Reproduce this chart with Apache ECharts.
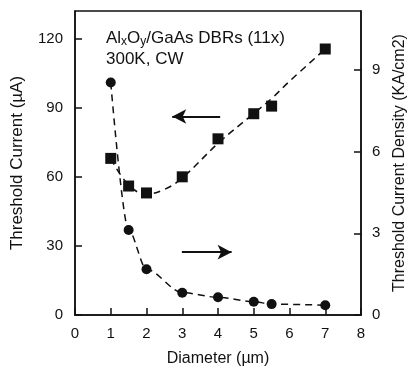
<!DOCTYPE html>
<html>
<head>
<meta charset="utf-8">
<script src="https://cdn.jsdelivr.net/npm/echarts@6/dist/echarts.min.js"></script>
<style>
  html, body { margin: 0; padding: 0; background: #fff; }
  #chart { width: 407px; height: 367px; }
</style>
</head>
<body>
<div id="chart"></div>
<script>
// diameters (µm)
const diameters = [1, 1.5, 2, 3, 4, 5, 5.5, 7];
// threshold current (µA), left axis, squares
const thresholdCurrent = [68, 56, 53, 60, 76.5, 87.4, 90.7, 115.5];
// threshold current density (KA/cm2), right axis, circles
const currentDensity = [8.54, 3.12, 1.68, 0.82, 0.65, 0.49, 0.4, 0.36];
// dashed fit through the current points
const fitDiameters = [1, 1.5, 2, 2.5, 3, 4, 5, 5.5, 6, 7];
const fitCurrent = [68, 56.5, 52.5, 54.5, 59.5, 74.5, 87.5, 94, 101.5, 115.5];

const xTicks = [0, 1, 2, 3, 4, 5, 6, 7, 8];
const leftTicks = [0, 30, 60, 90, 120];
const rightTicks = [0, 3, 6, 9];

const FONT = "Liberation Sans";
const INK = "#111";

const chart = echarts.init(document.getElementById("chart"), null, { renderer: "canvas" });

const axisCommon = {
  axisLine: { show: true, lineStyle: { color: INK, width: 1.5 } },
  axisTick: { show: true, inside: true, length: 7, lineStyle: { color: INK, width: 1.5 } },
  splitLine: { show: false },
  axisLabel: { color: INK, fontFamily: FONT, fontSize: 15 },
  nameTextStyle: { color: INK, fontFamily: FONT, fontSize: 16 },
};

chart.setOption({
  backgroundColor: "#fff",
  animation: false,
  grid: {
    left: 75, right: 46, top: 11, bottom: 52,
    containLabel: false,
    outerBoundsMode: "none",
    show: true, borderColor: INK, borderWidth: 1.5,
  },
  xAxis: {
    ...axisCommon,
    type: "value",
    min: 0, max: 8, interval: 1,
    name: "Diameter (µm)",
    nameLocation: "middle",
    nameGap: 36,
    axisLabel: { ...axisCommon.axisLabel, margin: 11, customValues: xTicks },
    axisTick: { ...axisCommon.axisTick, customValues: xTicks },
  },
  yAxis: [
    {
      ...axisCommon,
      type: "value",
      position: "left",
      min: 0, max: 132,
      name: "Threshold Current (µA)",
      nameLocation: "middle",
      nameGap: 49,
      nameTextStyle: { ...axisCommon.nameTextStyle, fontSize: 17 },
      axisLabel: { ...axisCommon.axisLabel, margin: 12, customValues: leftTicks },
      axisTick: { ...axisCommon.axisTick, customValues: leftTicks },
    },
    {
      ...axisCommon,
      type: "value",
      position: "right",
      min: 0, max: 11.17,
      name: "Threshold Current Density (KA/cm2)",
      nameLocation: "middle",
      nameGap: 29,
      nameRotate: 90,
      axisLabel: { ...axisCommon.axisLabel, margin: 11, customValues: rightTicks },
      axisTick: { ...axisCommon.axisTick, customValues: rightTicks },
    },
  ],
  graphic: [
    {
      type: "text",
      left: 106, top: 28,
      style: {
        text: "{n|Al}{s|x}{n|O}{s|y}{n|/GaAs DBRs (11x)}\n{n|300K, CW}",
        fill: INK,
        rich: {
          n: { fontFamily: FONT, fontSize: 17, lineHeight: 21, fill: INK },
          s: { fontFamily: FONT, fontSize: 12, lineHeight: 21, padding: [8, 0, 0, 0], fill: INK },
        },
      },
    },
  ],
  series: [
    {
      name: "fit current",
      type: "line",
      yAxisIndex: 0,
      data: fitDiameters.map((d, i) => [d, fitCurrent[i]]),
      smooth: 0.4,
      symbol: "none",
      lineStyle: { color: INK, width: 1.5, type: [7, 5] },
      z: 2,
    },
    {
      name: "Threshold Current",
      type: "scatter",
      yAxisIndex: 0,
      data: diameters.map((d, i) => [d, thresholdCurrent[i]]),
      symbol: "rect",
      symbolSize: 11,
      itemStyle: { color: INK, opacity: 1 },
      z: 3,
      markLine: {
        silent: true,
        symbol: ["none", "arrow"],
        symbolSize: [11, 14],
        label: { show: false },
        lineStyle: { color: INK, width: 2, type: "solid" },
        data: [
          [{ coord: [4.06, 86.2] }, { coord: [2.72, 86.2] }],
          [{ coord: [2.99, 27.3] }, { coord: [4.38, 27.3] }],
        ],
      },
    },
    {
      name: "Threshold Current Density",
      type: "line",
      yAxisIndex: 1,
      data: diameters.map((d, i) => [d, currentDensity[i]]),
      smooth: 0.3,
      smoothMonotone: "x",
      symbol: "circle",
      symbolSize: 10,
      showAllSymbol: true,
      itemStyle: { color: INK },
      lineStyle: { color: INK, width: 1.5, type: [7, 5] },
      z: 3,
    },
  ],
});
</script>
</body>
</html>
